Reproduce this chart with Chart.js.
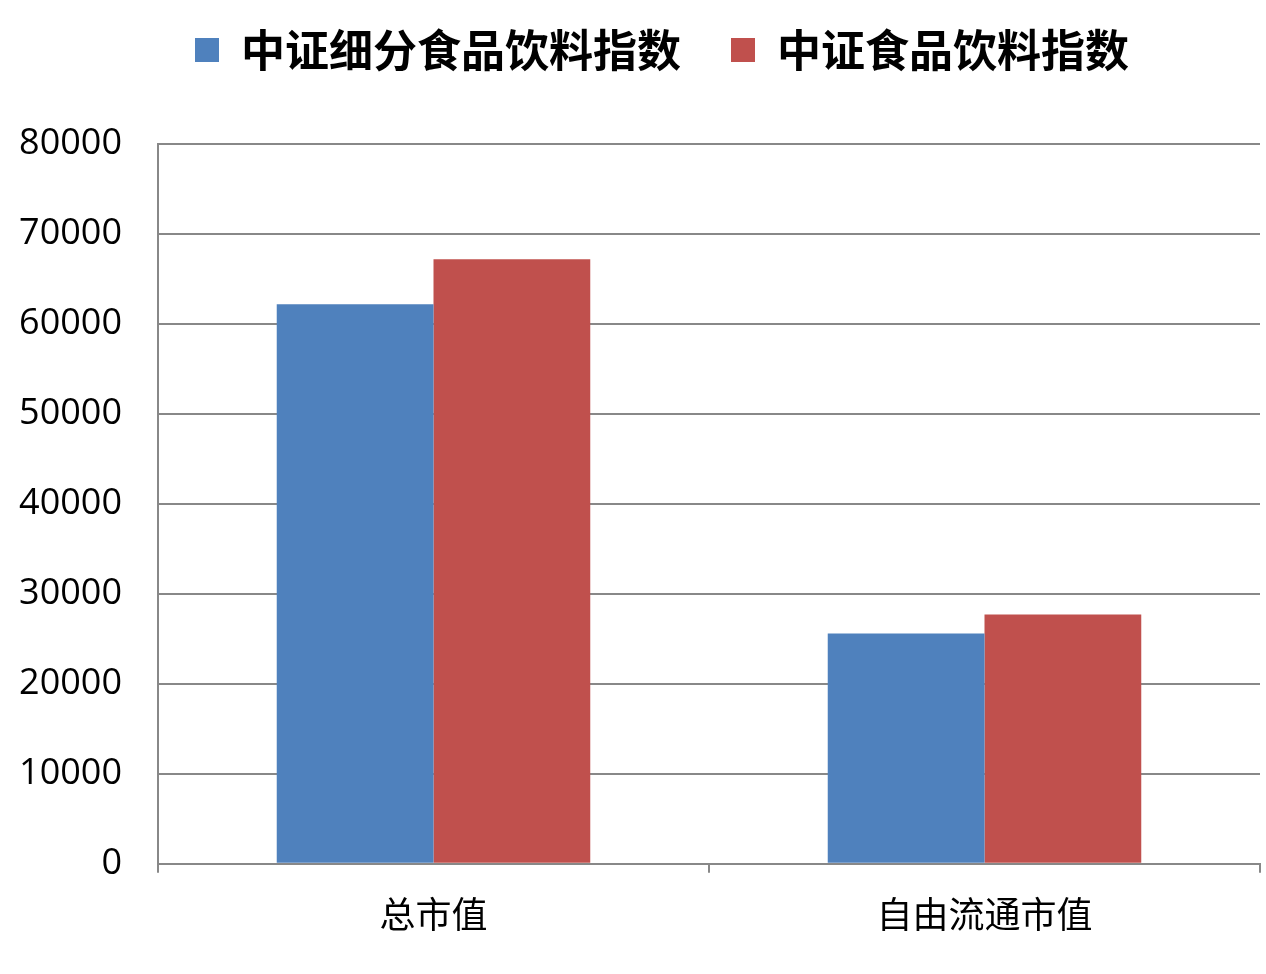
<!DOCTYPE html>
<html>
<head>
<meta charset="utf-8">
<script src="https://cdn.jsdelivr.net/npm/chart.js@4/dist/chart.umd.min.js"></script>
<style>
html,body{margin:0;padding:0;background:#fff;}
#wrap{width:1266px;height:974px;}
</style>
</head>
<body>
<div id="wrap"><canvas id="c" width="1266" height="974"></canvas></div>
<script>
const categories = ['总市值', '自由流通市值'];
const seriesNames = ['中证细分食品饮料指数', '中证食品饮料指数'];
const seriesA = [62200, 25600];
const seriesB = [67200, 27700];
const yTicks = [0, 10000, 20000, 30000, 40000, 50000, 60000, 70000, 80000];

const legendTweak = {
  id: 'legendTweak',
  beforeLayout(chart) {
    const lg = chart.legend;
    if (lg && !lg._tweaked) {
      lg._tweaked = true;
      const origFit = lg.fit;
      lg.fit = function () { origFit.apply(this, arguments); this.height += 62; };
      const origDraw = lg.draw;
      lg.draw = function () {
        const ctx = this.ctx;
        ctx.save(); ctx.translate(32, 0);
        origDraw.apply(this, arguments);
        ctx.restore();
      };
    }
  }
};

new Chart(document.getElementById('c'), {
  type: 'bar',
  plugins: [legendTweak],
  data: {
    labels: categories,
    datasets: [
      { label: seriesNames[0], data: seriesA, backgroundColor: '#4F81BD', borderWidth: 0, categoryPercentage: 0.569, barPercentage: 1.0 },
      { label: seriesNames[1], data: seriesB, backgroundColor: '#C0504D', borderWidth: 0, categoryPercentage: 0.569, barPercentage: 1.0 }
    ]
  },
  options: {
    responsive: false,
    animation: false,
    devicePixelRatio: 1,
    layout: { padding: { left: 0, right: 6, top: -22, bottom: 18 } },
    plugins: {
      legend: {
        position: 'top',
        labels: {
          boxWidth: 24, boxHeight: 24,
          font: { family: '"Noto Sans CJK SC", sans-serif', size: 44, weight: 'bold' },
          color: '#000',
          padding: 50
        }
      },
      tooltip: { enabled: false }
    },
    scales: {
      x: {
        offset: true,
        grid: { offset: true, drawOnChartArea: false, drawTicks: true, tickLength: 9, color: '#888', lineWidth: 2 },
        border: { color: '#888', width: 2 },
        ticks: {
          color: '#000',
          padding: 20,
          font: { family: '"Noto Sans CJK SC", sans-serif', size: 36 }
        }
      },
      y: {
        min: 0, max: 80000,
        afterBuildTicks: (s) => { s.ticks = yTicks.map(v => ({ value: v })); },
        afterFit: (s) => { s.width = 158; },
        grid: { color: '#888', lineWidth: 2, drawTicks: false },
        border: { color: '#888', width: 2 },
        ticks: {
          color: '#000',
          padding: 36,
          font: { family: '"Open Sans", sans-serif', size: 36 },
          callback: (v) => String(v)
        }
      }
    }
  }
});
</script>
</body>
</html>
